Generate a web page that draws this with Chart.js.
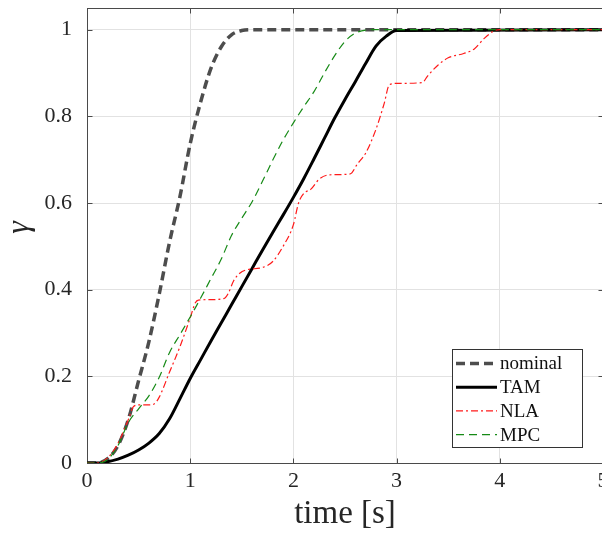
<!DOCTYPE html>
<html>
<head>
<meta charset="utf-8">
<script src="https://cdn.jsdelivr.net/npm/chart.js@4.4.0/dist/chart.umd.min.js"></script>
<style>
html, body { margin: 0; padding: 0; background: #fff; overflow: hidden; }
canvas { display: block; }
</style>
</head>
<body>
<canvas id="c" width="640" height="534"></canvas>
<script>
// time samples shared by nominal / TAM / MPC
const time    = [0,0.1,0.2,0.3,0.4,0.5,0.6,0.7,0.8,0.9,1.0,1.1,1.2,1.3,1.4,1.5,1.6,1.7,1.8,1.9,2.0,2.1,2.2,2.3,2.4,2.5,2.6,2.7,2.8,2.9,3.0,5];
const nominal = [0,0,0.01,0.04,0.1,0.19,0.28,0.39,0.51,0.614,0.737,0.832,0.91,0.96,0.988,0.998,1,1,1,1,1,1,1,1,1,1,1,1,1,1,1,1];
const tam     = [0,0,0.003,0.009,0.018,0.03,0.046,0.068,0.102,0.148,0.195,0.238,0.281,0.323,0.365,0.407,0.449,0.491,0.532,0.572,0.613,0.656,0.702,0.749,0.796,0.839,0.88,0.922,0.962,0.985,0.998,1];
const mpc     = [0,0,0.008,0.04,0.093,0.125,0.155,0.198,0.255,0.296,0.337,0.38,0.425,0.47,0.525,0.565,0.603,0.65,0.699,0.745,0.785,0.822,0.857,0.9,0.94,0.973,0.992,0.999,1,1,1,1];
// NLA has its own (uneven) samples
const nlaTime = [0,0.1,0.2,0.3,0.4,0.45,0.5,0.6,0.65,0.7,0.8,0.9,1.0,1.05,1.08,1.2,1.33,1.37,1.42,1.48,1.55,1.7,1.8,1.9,2.0,2.05,2.1,2.17,2.25,2.35,2.55,2.62,2.7,2.8,2.88,2.93,3.0,3.25,3.3,3.4,3.5,3.65,3.75,3.85,3.95,4.0,5];
const nla     = [0,0,0.012,0.045,0.1,0.13,0.134,0.134,0.136,0.152,0.21,0.268,0.335,0.37,0.376,0.377,0.38,0.392,0.42,0.438,0.446,0.451,0.465,0.5,0.55,0.6,0.622,0.632,0.655,0.665,0.667,0.69,0.715,0.77,0.83,0.873,0.876,0.878,0.893,0.918,0.935,0.945,0.955,0.98,0.998,1,1];

const xTicks = [0,1,2,3,4,5];
const yTicks = [0,0.2,0.4,0.6,0.8,1];

const axisColor = '#4a4a4a';
const gridColor = '#e2e2e2';
const serif = '"Liberation Serif", "DejaVu Serif", serif';

function pts(xs, ys) { return xs.map((t, i) => ({x: t, y: ys[i]})); }

const frame = {
    id: 'frame',
    beforeDatasetsDraw(chart) {
        const {ctx, chartArea: a, scales: {x, y}} = chart;
        ctx.save();
        ctx.strokeStyle = axisColor;
        ctx.lineWidth = 1;
        const L = Math.round(a.left) + 0.5, R = Math.round(a.right) + 0.5;
        const T = Math.round(a.top) + 0.5, B = Math.round(a.bottom) + 0.5;
        ctx.strokeRect(L, T, R - L, B - T);
        ctx.beginPath();
        xTicks.forEach(v => {
            const p = Math.round(x.getPixelForValue(v)) + 0.5;
            ctx.moveTo(p, B); ctx.lineTo(p, B - 5);
            ctx.moveTo(p, T); ctx.lineTo(p, T + 5);
        });
        yTicks.forEach(v => {
            const p = Math.round(y.getPixelForValue(v)) + 0.5;
            ctx.moveTo(L, p); ctx.lineTo(L + 5, p);
            ctx.moveTo(R, p); ctx.lineTo(R - 5, p);
        });
        ctx.stroke();
        ctx.restore();
    },
    afterDraw(chart) {
        // legend box (MATLAB style, inside the axes)
        const ctx = chart.ctx;
        const bx = 452.5, by = 349.5, bw = 130, bh = 98;
        ctx.save();
        ctx.fillStyle = '#fff';
        ctx.fillRect(bx, by, bw, bh);
        ctx.strokeStyle = '#333';
        ctx.lineWidth = 1;
        ctx.strokeRect(bx, by, bw, bh);
        chart.data.datasets.forEach((ds, i) => {
            const yy = 363.5 + i * 23.7;
            ctx.beginPath();
            ctx.strokeStyle = ds.borderColor;
            ctx.lineWidth = ds.borderWidth;
            ctx.setLineDash(ds.borderDash || []);
            ctx.moveTo(456, yy); ctx.lineTo(497, yy);
            ctx.stroke();
            ctx.setLineDash([]);
            ctx.fillStyle = '#111';
            ctx.font = '19px ' + serif;
            ctx.textBaseline = 'middle';
            ctx.fillText(ds.label, 500, yy + 1);
        });
        ctx.restore();
    }
};

new Chart(document.getElementById('c'), {
    type: 'line',
    data: {
        datasets: [
            {label: 'nominal', data: pts(time, nominal), borderColor: '#4d4d4d', borderWidth: 3.5, borderDash: [9, 5], order: 3},
            {label: 'TAM', data: pts(time, tam), borderColor: '#000', borderWidth: 3, order: 2},
            {label: 'NLA', data: pts(nlaTime, nla), borderColor: '#ff1a1a', borderWidth: 1.2, borderDash: [7, 3, 2, 3], order: 1},
            {label: 'MPC', data: pts(time, mpc), borderColor: '#168a16', borderWidth: 1.2, borderDash: [8, 5], order: 0}
        ]
    },
    options: {
        responsive: false,
        animation: false,
        events: [],
        layout: {padding: {left: 0, top: 8, right: 37, bottom: 0}},
        elements: {
            point: {radius: 0},
            line: {cubicInterpolationMode: 'monotone', fill: false}
        },
        plugins: {legend: {display: false}, tooltip: {enabled: false}},
        scales: {
            x: {
                type: 'linear', min: 0, max: 5,
                afterBuildTicks: s => { s.ticks = xTicks.map(v => ({value: v})); },
                afterFit: s => { s.height = 71; s.paddingLeft = 0; s.paddingRight = 0; },
                grid: {color: gridColor, drawTicks: false},
                border: {display: false},
                ticks: {padding: 5, color: '#262626', font: {family: serif, size: 22}, maxRotation: 0},
                title: {display: true, text: 'time [s]', color: '#262626', font: {family: serif, size: 33}, padding: {top: 0, bottom: 0}}
            },
            y: {
                type: 'linear', min: 0, max: 1.05,
                afterBuildTicks: s => { s.ticks = yTicks.map(v => ({value: v})); },
                afterFit: s => { s.width = 87; s.paddingTop = 0; s.paddingBottom = 0; },
                grid: {color: gridColor, drawTicks: false},
                border: {display: false},
                ticks: {padding: 15, color: '#262626', font: {family: serif, size: 22},
                        callback: v => (v === 0 || v === 1) ? String(v) : v.toFixed(1)},
                title: {display: true, text: '\u2002\u03b3', color: '#262626', font: {family: serif, size: 32, style: 'italic'}, padding: {top: 0, bottom: 0}}
            }
        }
    },
    plugins: [frame]
});
</script>
</body>
</html>
